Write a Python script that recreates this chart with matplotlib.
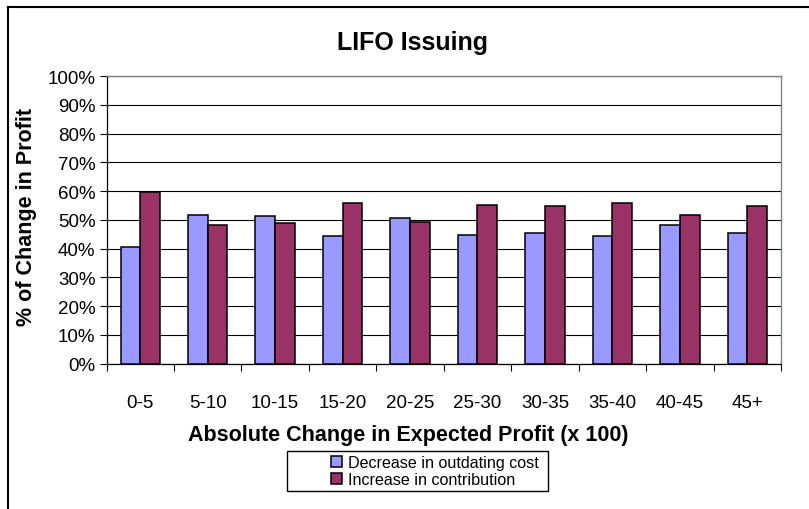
import matplotlib.pyplot as plt
import numpy as np
from matplotlib.lines import Line2D
from matplotlib.patches import Rectangle

plt.rcParams['font.family'] = ['Liberation Sans', 'DejaVu Sans']

ranges = ['0-5', '5-10', '10-15', '15-20', '20-25',
          '25-30', '30-35', '35-40', '40-45', '45+']
outdating = [40.4, 51.7, 51.2, 44.3, 50.8, 44.8, 45.3, 44.3, 48.3, 45.3]
contribution = [59.6, 48.3, 48.8, 55.7, 49.2, 55.2, 54.7, 55.7, 51.7, 54.7]

W, H = 809, 510
fig = plt.figure(figsize=(W / 100, H / 100), dpi=100)
ax = fig.add_axes([106.5 / W, 1 - 364.7 / H, (781 - 106.5) / W, (364.7 - 77) / H])

x = np.arange(len(ranges))
bw = 0.292
ax.bar(x - bw / 2, outdating, bw, color='#9999FF', edgecolor='black',
       linewidth=1.1, label='Decrease in outdating cost', zorder=3)
ax.bar(x + bw / 2, contribution, bw, color='#993366', edgecolor='black',
       linewidth=1.1, label='Increase in contribution', zorder=3)

ax.set_xlim(-0.5, len(ranges) - 0.5)
ax.set_ylim(0, 100)
ax.set_yticks(np.arange(0, 101, 10))
ax.set_yticklabels(['%d%%' % v for v in range(0, 101, 10)], fontsize=13.5)
ax.yaxis.grid(True, color='black', linewidth=0.8, zorder=0)
ax.set_axisbelow(True)

ax.set_xticks(x)
ax.set_xticklabels(ranges, fontsize=13.5)
ax.set_xticks(np.arange(-0.5, len(ranges)), minor=True)
ax.tick_params(axis='x', which='major', length=0, pad=22)
ax.tick_params(axis='x', which='minor', length=5, width=0.8, direction='out')
ax.tick_params(axis='y', length=5, width=0.8, direction='out', pad=3)

for side in ['top', 'right']:
    ax.spines[side].set_color('#808080')
    ax.spines[side].set_linewidth(1.0)
for side in ['left', 'bottom']:
    ax.spines[side].set_color('black')
    ax.spines[side].set_linewidth(0.9)

fig.text(413 / W, 1 - 43 / H, 'LIFO Issuing', ha='center', va='center',
         fontsize=18, fontweight='bold')
fig.text(408 / W, 1 - 436 / H, 'Absolute Change in Expected Profit (x 100)',
         ha='center', va='center', fontsize=15.5, fontweight='bold')
fig.text(27 / W, 1 - 217 / H, '% of Change in Profit', rotation=90,
         ha='center', va='center', fontsize=15.5, fontweight='bold')

# legend box drawn separately so it can be wider than its entries
fig.add_artist(Rectangle((287 / W, 1 - 492 / H), (548 - 287) / W, 40 / H,
                         transform=fig.transFigure, fill=False,
                         edgecolor='black', linewidth=1.0))
fig.legend(loc='center left', bbox_to_anchor=(331 / W, 1 - 472 / H),
           frameon=False, fontsize=11.6, handlelength=0.7, handleheight=0.7,
           handletextpad=0.35, labelspacing=0.15, borderpad=0, borderaxespad=0)

# outer chart frame
fig.add_artist(Line2D([8 / W, 1], [1 - 7.5 / H, 1 - 7.5 / H],
                      transform=fig.transFigure, color='black', linewidth=1.5))
fig.add_artist(Line2D([8 / W, 8 / W], [0, 1 - 7.5 / H],
                      transform=fig.transFigure, color='black', linewidth=1.5))

fig.savefig('out.png', dpi=100)
